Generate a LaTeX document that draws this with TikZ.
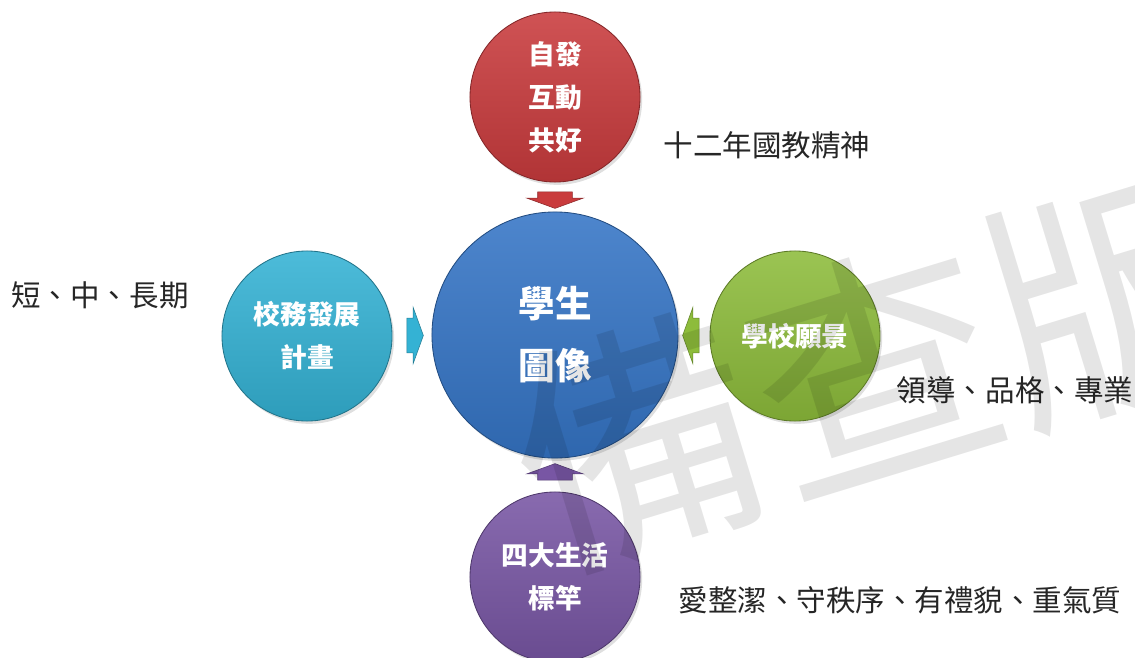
\documentclass[tikz,border=0pt]{standalone}
\usepackage{fontspec}
\setmainfont{Noto Sans CJK TC}
\usetikzlibrary{shapes.arrows,shadows,calc}
\definecolor{redball}{HTML}{C93B3D}
\definecolor{blueball}{HTML}{3575C6}
\definecolor{cyanball}{HTML}{34B2D4}
\definecolor{greenball}{HTML}{8DBC3B}
\definecolor{purpleball}{HTML}{7856A4}
\tikzset{
  ball/.style={circle, draw=#1!65!black, line width=0.6pt,
    top color=#1!88!white, bottom color=#1!88!black,
    drop shadow={opacity=0.25, shadow xshift=1.5pt, shadow yshift=-2pt},
    minimum size=4.25cm, inner sep=0pt, text=white, align=center,
    font=\bfseries\fontsize{19}{30.5}\selectfont},
  flow/.style={single arrow, draw=#1!70!black, line width=0.4pt,
    fill=#1, minimum size=0pt, inner xsep=0.12cm, inner ysep=0.425cm,
    single arrow head extend=0.275cm, single arrow tip angle=140},
  note/.style={font=\fontsize{21}{24}\selectfont, text=black!85},
  stamp/.style={font=\fontsize{177}{177}\selectfont,
    text=black, text opacity=0.1, inner sep=0pt}
}
\begin{document}
\begin{tikzpicture}[x=0.025cm,y=-0.025cm]
      \useasboundingbox (0,0) rectangle (1135,657);
      \clip (0,0) rectangle (1135,657);
      \draw
        (555,335) node[ball=blueball, minimum size=6.15cm,
          font=\bfseries\fontsize{26}{44}\selectfont] (core){學生\\圖像}
        (555,97) node[ball=redball] (spirit){自發\\互動\\共好}
        (307,336) node[ball=cyanball] (plan){校務發展\\計畫}
        (795,336) node[ball=greenball] (vision){學校願景}
        (555,577) node[ball=purpleball] (habit){四大生活\\標竿};
      \begin{scope}
        \node[flow=redball, rotate=-90] (a1) at ($(spirit.south)!0.5!(core.north)$) {};
        \node[flow=cyanball] (a2) at ($(plan.east)!0.5!(core.west)$) {};
        \node[flow=greenball, rotate=180] (a3) at ($(vision.west)!0.5!(core.east)$) {};
        \node[flow=purpleball, rotate=90] (a4) at ($(habit.north)!0.5!(core.south)$) {};
      \end{scope}
      \node[note] (t1) at (767,145) {十二年國教精神};
      \node[note] (t2) at (100,295) {短、中、長期};
      \node[note] (t3) at (1015,390) {領導、品格、專業};
      \node[note] (t4) at (900,600) {愛整潔、守秩序、有禮貌、重氣質};
      \node[stamp, rotate=17] (wm) at (875,370) {備查版};
    \end{tikzpicture}
\end{document}
